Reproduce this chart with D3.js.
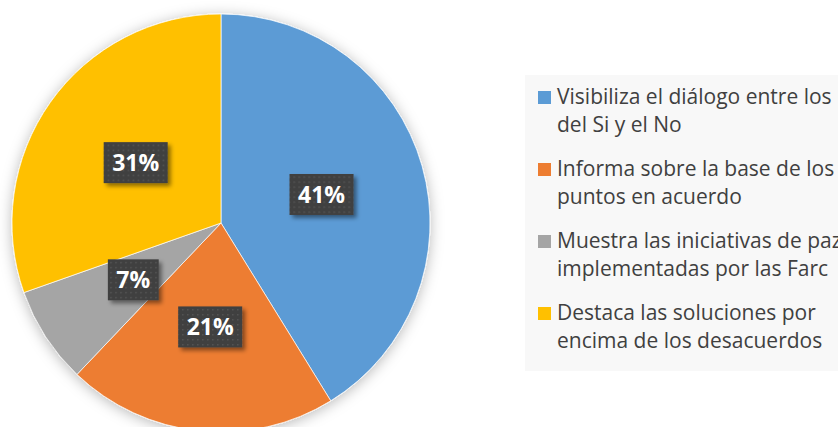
<!DOCTYPE html>
<html>
<head>
<meta charset="utf-8">
<script src="https://cdn.jsdelivr.net/npm/d3@7"></script>
<style>
  body { margin: 0; background: #fff; }
  svg { display: block; }
</style>
</head>
<body>
<div id="chart"></div>
<script>
// data
const categories = [
  ["Visibiliza el diálogo entre los", "del Si y el No"],
  ["Informa sobre la base de los", "puntos en acuerdo"],
  ["Muestra las iniciativas de paz", "implementadas por las Farc"],
  ["Destaca las soluciones por", "encima de los desacuerdos"]
];
const values = [41.2, 20.9, 7.5, 30.4];
const labels = ["41%", "21%", "7%", "31%"];
const colors = ["#5B9BD5", "#ED7D31", "#A5A5A5", "#FFC000"];

const width = 838, height = 427;
const cx = 221, cy = 223, radius = 209;

const svg = d3.select("#chart").append("svg")
  .attr("width", width)
  .attr("height", height);

const defs = svg.append("defs");

// soft shadow under the pie
const pieShadow = defs.append("filter").attr("id", "pieShadow")
  .attr("x", "-20%").attr("y", "-20%").attr("width", "140%").attr("height", "140%");
pieShadow.append("feDropShadow")
  .attr("dx", 0).attr("dy", 2).attr("stdDeviation", 7)
  .attr("flood-color", "#000").attr("flood-opacity", 0.28);

// shadow for the label boxes
const boxShadow = defs.append("filter").attr("id", "boxShadow")
  .attr("x", "-30%").attr("y", "-30%").attr("width", "160%").attr("height", "160%");
boxShadow.append("feDropShadow")
  .attr("dx", 3).attr("dy", 3).attr("stdDeviation", 2)
  .attr("flood-color", "#000").attr("flood-opacity", 0.45);

// dotted dark fill for label boxes
const pat = defs.append("pattern").attr("id", "dots")
  .attr("patternUnits", "userSpaceOnUse")
  .attr("width", 5).attr("height", 5);
pat.append("rect").attr("width", 5).attr("height", 5).attr("fill", "#404040");
pat.append("rect").attr("x", 2).attr("y", 2).attr("width", 1.4).attr("height", 1.4).attr("fill", "#585858");

const pie = d3.pie().sort(null).value(d => d);
const arcs = pie(values);

const arc = d3.arc().innerRadius(0).outerRadius(radius);

const g = svg.append("g")
  .attr("transform", "translate(" + cx + "," + cy + ")");

g.append("g")
  .attr("filter", "url(#pieShadow)")
  .selectAll("path")
  .data(arcs)
  .enter().append("path")
    .attr("d", arc)
    .attr("fill", (d, i) => colors[i])
    .attr("stroke", "#fff")
    .attr("stroke-width", 0.7);

// data labels at the arc centroid
const lbl = g.selectAll(".lbl")
  .data(arcs)
  .enter().append("g")
    .attr("class", "lbl")
    .attr("transform", d => "translate(" + arc.centroid(d) + ")");

lbl.append("rect")
  .attr("fill", "url(#dots)")
  .attr("filter", "url(#boxShadow)");

lbl.append("text")
  .attr("text-anchor", "middle")
  .attr("dy", "0.36em")
  .attr("fill", "#fff")
  .style("font-family", "'Open Sans', sans-serif")
  .style("font-weight", "bold")
  .style("font-size", "23px")
  .text((d, i) => labels[i]);

lbl.each(function() {
  const t = d3.select(this).select("text");
  const w = t.node().getComputedTextLength() + 17;
  const h = 41;
  d3.select(this).select("rect")
    .attr("x", -w / 2).attr("y", -h / 2)
    .attr("width", w).attr("height", h);
});

// legend
const legend = svg.append("g");

legend.append("rect")
  .attr("x", 525).attr("y", 75)
  .attr("width", width - 525).attr("height", 296)
  .attr("fill", "#f8f8f8");

const item = legend.selectAll(".item")
  .data(categories)
  .enter().append("g")
    .attr("class", "item")
    .attr("transform", (d, i) => "translate(538," + (104 + i * 72) + ")");

item.append("rect")
  .attr("x", 0).attr("y", -13)
  .attr("width", 13).attr("height", 13)
  .attr("fill", (d, i) => colors[i]);

item.append("text")
  .attr("x", 19)
  .attr("fill", "#404040")
  .style("font-family", "'Open Sans', sans-serif")
  .style("font-size", "21px")
  .selectAll("tspan")
  .data(d => d)
  .enter().append("tspan")
    .attr("x", 19)
    .attr("y", (d, i) => i * 28)
    .text(d => d);
</script>
</body>
</html>
